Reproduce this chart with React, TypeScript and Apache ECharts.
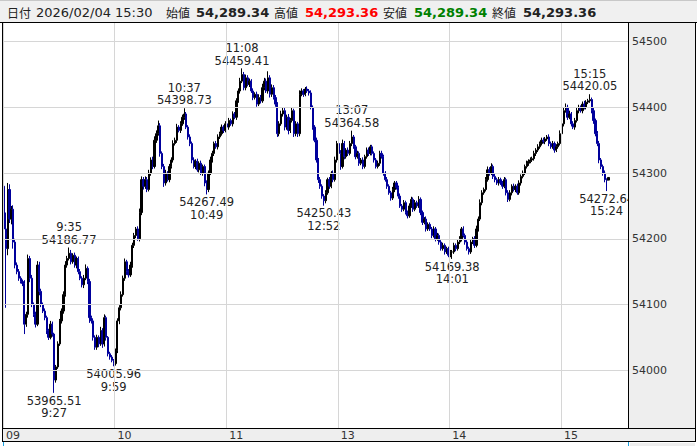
import { useEffect, useRef } from "react";
import * as echarts from "echarts";

// trading sessions shown on the time axis (1-minute bars)
const sessions: [string, string][] = [
  ["9:00", "11:29"],
  ["12:30", "15:24"],
  ["15:30", "15:30"],
];
const padSlots = 10; // empty room after the close

const firstOpen = 54280;

// close of every minute bar
const closes = [
  54215, 54185, 54275, 54230, 54245, 54195, 54160, 54150, 54140, 54135,
  54132, 54070, 54085, 54170, 54140, 54100, 54085, 54070, 54160, 54120,
  54100, 54090, 54080, 54060, 54050, 54070, 54055, 53985, 54005, 54040,
  54075, 54090, 54115, 54160, 54170, 54178, 54165, 54175, 54160, 54170,
  54150, 54140, 54130, 54140, 54155, 54135, 54080, 54075, 54050, 54035,
  54050, 54040, 54060, 54040, 54080, 54050, 54025, 54020, 54015, 54010,
  54030, 54075, 54095, 54115, 54140, 54165, 54150, 54145, 54160, 54190,
  54205, 54215, 54200, 54240, 54290, 54280, 54290, 54275, 54300, 54320,
  54310, 54350, 54360, 54372, 54330, 54310, 54285, 54300, 54290, 54310,
  54320, 54345, 54350, 54370, 54365, 54375, 54385, 54390, 54370, 54355,
  54345, 54320, 54310, 54318, 54305, 54315, 54300, 54310, 54285, 54275,
  54300, 54320, 54330, 54345, 54340, 54355, 54360, 54370, 54365, 54375,
  54370, 54380, 54375, 54390, 54385, 54410, 54425, 54440, 54450, 54430,
  54445, 54435, 54440, 54425, 54415, 54420, 54405, 54415, 54410, 54430,
  54440, 54425, 54445, 54420, 54430, 54415, 54405, 54360, 54375, 54390,
  // afternoon
  54395, 54370, 54385, 54365, 54380, 54395, 54360, 54375, 54360, 54420,
  54425, 54420, 54428, 54425, 54422, 54400, 54370, 54350, 54320, 54290,
  54280, 54265, 54258, 54270, 54290, 54280, 54300, 54290, 54320, 54345,
  54330, 54310, 54345, 54325, 54335, 54330, 54345, 54355, 54340, 54325,
  54330, 54315, 54320, 54310, 54325, 54335, 54330, 54340, 54330, 54320,
  54310, 54315, 54330, 54325, 54300, 54290, 54280, 54270, 54262, 54275,
  54285, 54278, 54265, 54250, 54245, 54255, 54240, 54235, 54250, 54260,
  54245, 54255, 54250, 54260, 54240, 54225, 54230, 54215, 54222, 54215,
  54205, 54215, 54200, 54205, 54195, 54185, 54190, 54180, 54185, 54175,
  54180, 54180, 54190, 54185, 54195, 54200, 54215, 54205, 54195, 54185,
  54180, 54195, 54200, 54190, 54215, 54230, 54255, 54270, 54275, 54290,
  54305, 54300, 54310, 54295, 54290, 54285, 54290, 54285, 54280, 54290,
  54270, 54260, 54270, 54280, 54275, 54280, 54270, 54285, 54295, 54300,
  54310, 54315, 54318, 54320, 54322, 54330, 54335, 54340, 54345, 54350,
  54348, 54352, 54355, 54345, 54340, 54345, 54335, 54340, 54345, 54360,
  54375, 54395, 54400, 54385, 54390, 54375, 54370, 54380, 54395, 54400,
  54395, 54405, 54400, 54408, 54410, 54412, 54395, 54380, 54360, 54345,
  54320, 54310, 54300, 54290, 54289.34, 54293.36,
];

// how far the high reaches above the body
const wickUp = [
  10, 25, 10, 8, 5, 6, 5, 4, 4, 3,
  3, 5, 4, 6, 4, 5, 3, 4, 6, 5,
  4, 3, 4, 3, 3, 5, 4, 2, 3, 4,
  3, 4, 5, 6, 4, 0, 5, 3, 4, 3,
  3, 4, 3, 5, 6, 3, 4, 3, 4, 3,
  4, 3, 6, 4, 5, 3, 2, 3, 3, 2,
  3, 4, 4, 5, 4, 5, 3, 4, 5, 4,
  4, 3, 4, 6, 5, 4, 5, 4, 5, 4,
  5, 6, 5, 8, 4, 3, 4, 5, 3, 4,
  4, 5, 4, 5, 3, 4, 4, 0, 3, 3,
  4, 3, 4, 3, 4, 3, 4, 3, 3, 4,
  4, 5, 4, 3, 4, 4, 3, 4, 3, 4,
  3, 4, 3, 4, 3, 4, 4, 5, 0, 4,
  5, 4, 4, 3, 4, 3, 4, 5, 4, 6,
  5, 4, 10, 4, 5, 4, 4, 3, 4, 5,
  5, 4, 4, 5, 4, 5, 3, 4, 3, 6,
  4, 3, 3, 4, 3, 4, 3, 3, 4, 3,
  4, 3, 3, 4, 3, 4, 3, 4, 5, 4,
  4, 5, 6, 4, 3, 4, 4, 0, 3, 3,
  4, 3, 3, 4, 3, 4, 4, 3, 3, 3,
  3, 4, 4, 4, 3, 3, 4, 3, 3, 4,
  3, 3, 3, 4, 3, 4, 3, 3, 4, 4,
  3, 4, 3, 5, 3, 3, 3, 4, 3, 3,
  3, 4, 3, 4, 3, 3, 4, 3, 3, 3,
  3, 3, 4, 3, 4, 4, 3, 4, 3, 3,
  3, 4, 3, 4, 5, 4, 5, 4, 3, 4,
  5, 4, 5, 3, 4, 3, 4, 3, 3, 4,
  3, 4, 4, 3, 4, 3, 4, 4, 3, 4,
  3, 4, 3, 4, 3, 4, 3, 4, 3, 4,
  4, 3, 3, 4, 3, 4, 3, 4, 3, 5,
  4, 5, 6, 4, 5, 3, 4, 4, 5, 4,
  3, 4, 5, 3, 3, 0, 3, 4, 3, 4,
  4, 3, 3, 4, 2, 0,
];

// how far the low reaches below the body
const wickDown = [
  20, 90, 10, 6, 8, 10, 5, 4, 4, 3,
  4, 15, 4, 5, 6, 4, 4, 5, 3, 6,
  4, 3, 4, 5, 4, 3, 4, 0, 4, 3,
  3, 4, 4, 3, 4, 3, 4, 3, 4, 5,
  4, 3, 4, 5, 3, 4, 8, 4, 5, 4,
  4, 5, 3, 6, 4, 5, 4, 4, 3, 0,
  3, 4, 5, 4, 3, 4, 5, 4, 3, 4,
  4, 4, 3, 4, 4, 5, 4, 4, 3, 4,
  4, 3, 4, 3, 5, 4, 6, 4, 3, 4,
  3, 4, 3, 4, 3, 4, 3, 4, 3, 4,
  4, 5, 3, 4, 3, 4, 3, 4, 5, 0,
  4, 3, 4, 4, 3, 4, 3, 3, 4, 3,
  3, 4, 3, 4, 3, 4, 3, 4, 3, 4,
  4, 3, 4, 3, 4, 3, 4, 3, 4, 3,
  4, 3, 4, 5, 4, 3, 4, 5, 4, 3,
  4, 5, 4, 6, 4, 3, 5, 4, 5, 4,
  3, 4, 3, 3, 4, 3, 4, 3, 4, 5,
  4, 4, 0, 4, 3, 4, 3, 4, 3, 4,
  4, 5, 3, 4, 3, 4, 3, 4, 3, 4,
  3, 4, 3, 4, 3, 3, 4, 3, 3, 4,
  3, 3, 4, 3, 4, 3, 4, 3, 4, 3,
  4, 3, 4, 3, 4, 3, 3, 4, 3, 3,
  4, 3, 3, 3, 4, 4, 3, 4, 3, 3,
  4, 3, 4, 3, 4, 3, 3, 4, 3, 3,
  3, 0, 3, 4, 3, 3, 4, 3, 4, 3,
  4, 3, 3, 4, 3, 4, 3, 4, 3, 3,
  3, 4, 3, 4, 4, 3, 4, 3, 4, 3,
  4, 4, 3, 4, 3, 4, 3, 3, 4, 3,
  3, 3, 4, 3, 3, 3, 4, 3, 3, 3,
  3, 4, 3, 4, 3, 3, 4, 3, 3, 3,
  3, 4, 3, 4, 3, 4, 3, 4, 3, 4,
  3, 4, 3, 3, 3, 3, 4, 5, 4, 4,
  5, 4, 4, 4, 0, 0,
];

// labelled swing highs / lows
const extremes: { time: string; value: number; kind: "high" | "low" }[] = [
  { time: "9:27", value: 53965.51, kind: "low" },
  { time: "9:35", value: 54186.77, kind: "high" },
  { time: "9:59", value: 54005.96, kind: "low" },
  { time: "10:37", value: 54398.73, kind: "high" },
  { time: "10:49", value: 54267.49, kind: "low" },
  { time: "11:08", value: 54459.41, kind: "high" },
  { time: "12:52", value: 54250.43, kind: "low" },
  { time: "13:07", value: 54364.58, kind: "high" },
  { time: "14:01", value: 54169.38, kind: "low" },
  { time: "15:15", value: 54420.05, kind: "high" },
  { time: "15:24", value: 54272.64, kind: "low" },
];

const headerDate = "2026/02/04 15:30";
const ohlcNames = ["始値", "高値", "安値", "終値"];
const ohlcValues = ["54,289.34", "54,293.36", "54,289.34", "54,293.36"];

const yMin = 53912;
const yMax = 54530;

const toMin = (t: string) => {
  const [h, m] = t.split(":").map(Number);
  return h * 60 + m;
};
const fmtMin = (v: number) => `${Math.floor(v / 60)}:${String(v % 60).padStart(2, "0")}`;

const times: string[] = [];
sessions.forEach(([a, b]) => {
  for (let m = toMin(a); m <= toMin(b); m++) times.push(fmtMin(m));
});
const categories = [...times];
for (let k = 1; k <= padSlots; k++) categories.push(fmtMin(toMin(sessions[sessions.length - 1][1]) + k));

const candles = closes.map((c, i) => {
  const o = i === 0 ? firstOpen : closes[i - 1];
  let hi = Math.max(o, c) + wickUp[i];
  let lo = Math.min(o, c) - wickDown[i];
  const ex = extremes.find((e) => e.time === times[i]);
  if (ex) {
    if (ex.kind === "high") hi = ex.value;
    else lo = ex.value;
  }
  return [o, c, lo, hi];
});

const NUM_FONT = "DejaVu Sans";
const CJK_FONT = "Noto Sans CJK JP";

export default function App() {
  const ref = useRef<HTMLDivElement>(null);

  useEffect(() => {
    document.body.style.margin = "0";
    if (!ref.current) return;
    const chart = echarts.init(ref.current, undefined, { renderer: "svg" });

    const W = 697;
    const H = 446;
    const plotRight = 628;
    const plotBottom = 428;
    const headerH = 22;

    const line = (x1: number, y1: number, x2: number, y2: number, color = "#000") => ({
      type: "line",
      z: 30,
      silent: true,
      shape: { x1, y1, x2, y2 },
      style: { stroke: color, lineWidth: 1 },
    });

    const ohlcColors = ["#222", "#ff0000", "#008000", "#222"];
    const nameX = [166, 274, 383, 492];
    const valueX = [196, 305, 414, 523];

    const headerTexts: any[] = [
      {
        type: "text", x: 7, y: 12, z: 30,
        style: { text: "日付", fontSize: 12, fontFamily: CJK_FONT, fill: "#222", verticalAlign: "middle" },
      },
      {
        type: "text", x: 36, y: 12, z: 30,
        style: { text: headerDate, fontSize: 13, fontFamily: NUM_FONT, fill: "#222", verticalAlign: "middle" },
      },
    ];
    ohlcNames.forEach((n, i) => {
      headerTexts.push({
        type: "text", x: nameX[i], y: 12.5, z: 30,
        style: { text: n, fontSize: 12, fontFamily: CJK_FONT, fill: "#222", verticalAlign: "middle" },
      });
      headerTexts.push({
        type: "text", x: valueX[i], y: 12, z: 30,
        style: {
          text: ohlcValues[i], fontSize: 13, fontWeight: "bold", fontFamily: NUM_FONT,
          fill: ohlcColors[i], verticalAlign: "middle",
        },
      });
    });

    chart.setOption({
      animation: false,
      backgroundColor: "#fff",
      grid: { left: 3, right: W - plotRight, top: headerH, bottom: H - plotBottom, containLabel: false },
      graphic: [
        { type: "rect", z: 10, silent: true, shape: { x: 0, y: 0, width: W, height: headerH }, style: { fill: "#f0f0f0" } },
        { type: "rect", z: 10, silent: true, shape: { x: plotRight, y: headerH, width: 67, height: plotBottom - headerH }, style: { fill: "#eeeeee" } },
        { type: "rect", z: 10, silent: true, shape: { x: 3, y: plotBottom, width: 692, height: 14 }, style: { fill: "#eeeeee" } },
        { type: "rect", z: 10, silent: true, shape: { x: 630, y: 443, width: 65, height: 3 }, style: { fill: "#eeeeee" } },
        line(0, 0.5, W, 0.5, "#c8c8c8"),
        line(0, headerH + 0.5, W, headerH + 0.5),
        line(2.5, headerH, 2.5, 442),
        line(plotRight + 0.5, headerH, plotRight + 0.5, plotBottom),
        line(3, plotBottom + 0.5, 695, plotBottom + 0.5),
        line(3, 441.5, 695, 441.5),
        line(695.5, headerH, 695.5, 442),
        line(3.5, 442, 3.5, 446, "#1da1e0"),
        line(628.5, 442, 628.5, 446, "#1da1e0"),
        ...headerTexts,
      ],
      xAxis: {
        type: "category",
        data: categories,
        boundaryGap: true,
        z: 20,
        axisLine: { show: false },
        axisTick: { show: false },
        axisLabel: {
          interval: (_i: number, v: string) => v.endsWith(":00"),
          formatter: (v: string) => (v.endsWith(":00") ? v.split(":")[0].padStart(2, "0") : ""),
          align: "left",
          padding: [0, 0, 0, 2],
          margin: 2,
          color: "#333",
          fontSize: 11,
          fontFamily: NUM_FONT,
        },
        splitLine: {
          show: true,
          interval: (_i: number, v: string) => v.endsWith(":00"),
          lineStyle: { color: "#d6d6d6", width: 1 },
        },
      },
      yAxis: {
        type: "value",
        position: "right",
        min: yMin,
        max: yMax,
        splitNumber: 5,
        z: 20,
        axisLine: { show: false },
        axisTick: { show: false },
        axisLabel: {
          showMinLabel: false,
          showMaxLabel: false,
          formatter: (v: number) => String(v),
          margin: 4,
          color: "#333",
          fontSize: 11,
          fontFamily: NUM_FONT,
        },
        splitLine: { lineStyle: { color: "#d6d6d6", width: 1 } },
      },
      series: [
        {
          type: "candlestick",
          data: candles,
          barWidth: 1.7,
          barMinWidth: 1.7,
          itemStyle: {
            color: "#000000",
            color0: "#00009c",
            borderColor: "#000000",
            borderColor0: "#00009c",
            borderWidth: 1,
          },
          markPoint: {
            symbol: "circle",
            symbolSize: 1,
            itemStyle: { color: "rgba(0,0,0,0)" },
            label: {
              color: "#222",
              fontSize: 11.5,
              fontFamily: NUM_FONT,
              lineHeight: 12.5,
              align: "center",
              distance: 1,
            },
            data: extremes.map((e) => ({
              coord: [e.time, e.value],
              label: {
                position: e.kind === "high" ? "top" : "bottom",
                formatter:
                  e.kind === "high"
                    ? `${e.time}\n${e.value.toFixed(2)}`
                    : `${e.value.toFixed(2)}\n${e.time}`,
              },
            })),
          },
        },
      ],
    });

    return () => chart.dispose();
  }, []);

  return <div ref={ref} style={{ width: 697, height: 446 }} />;
}
